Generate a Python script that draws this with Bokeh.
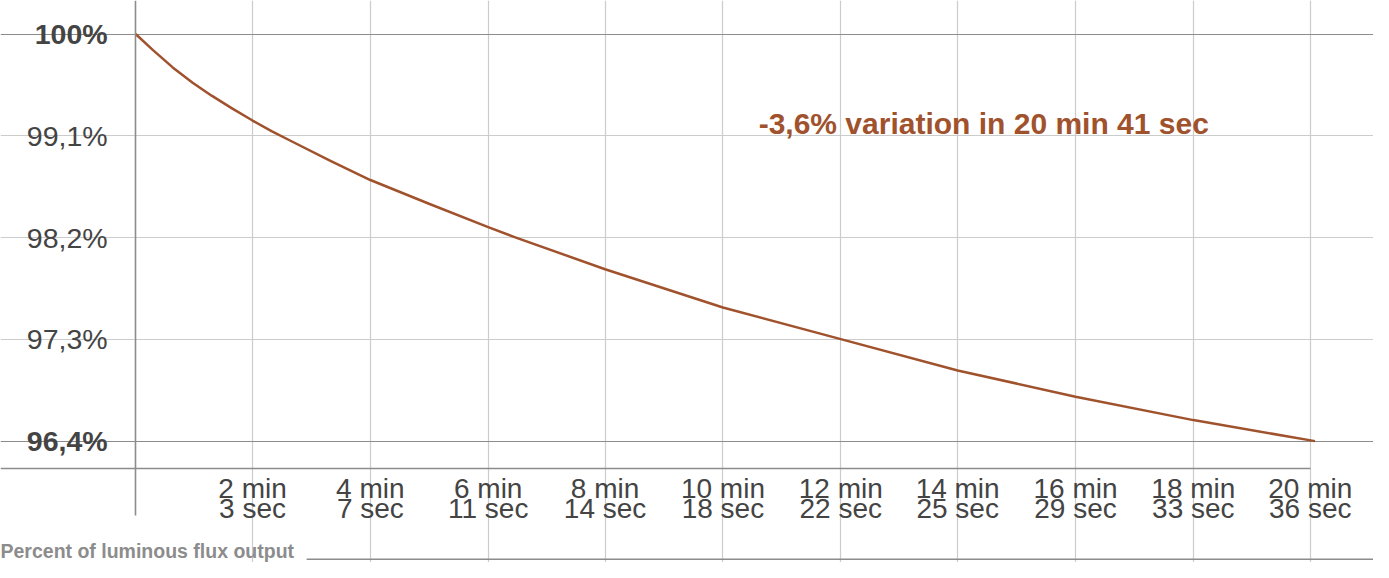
from bokeh.plotting import figure
from bokeh.models import LinearAxis, FixedTicker, Grid, Label, Range1d
from bokeh.embed import file_html
from bokeh.resources import INLINE

# ---- data ----
time_s = [0, 18, 39, 60, 80, 101, 123, 143, 164, 205, 247, 310, 371, 398, 494, 618, 742,
          865, 989, 1113, 1241]
flux_pct = [100, 99.860, 99.705, 99.570, 99.455, 99.345, 99.235, 99.142, 99.052, 98.878,
            98.709, 98.495, 98.293, 98.207, 97.920, 97.582, 97.302, 97.025, 96.793, 96.586,
            96.4]

x_ticks = [123, 247, 371, 494, 618, 742, 865, 989, 1113, 1236]
x_tick_labels = ["2 min\n3 sec", "4 min\n7 sec", "6 min\n11 sec", "8 min\n14 sec",
                 "10 min\n18 sec", "12 min\n22 sec", "14 min\n25 sec", "16 min\n29 sec",
                 "18 min\n33 sec", "20 min\n36 sec"]
y_ticks_bold = [100, 96.4]
y_labels_bold = ["100%", "96,4%"]
y_ticks_norm = [99.1, 98.2, 97.3]
y_labels_norm = ["99,1%", "98,2%", "97,3%"]

annotation = "-3,6% variation in 20 min 41 sec"
footer = "Percent of luminous flux output"

FONT = "Liberation Sans"
SIENNA = "#a0522d"
DARK = "#444444"
LIGHT_GRID = "#cccccc"
DARK_GRID = "#8c8c8c"

# ---- ranges (frame covers the whole canvas) ----
X_START, X_END = -142.19, 1302.58
Y_BOTTOM, Y_TOP = 95.3268, 100.2966
X_AXIS_AT = 96.161      # y value of the horizontal axis line
GRID_LOW = 96.0404      # lower end of the vertical grid lines
Y_AXIS_LOW = 95.7395    # lower end of the vertical axis line
GRID_LEFT = -14.25      # left end of the horizontal grid lines
GRID_RIGHT = 1241
ANNOT_X, ANNOT_Y = 655.6, 99.2125
FOOTER_Y = 95.4275
RULE_Y = 95.3559
RULE_X0 = 180

p = figure(width=1373, height=562, output_backend="svg", toolbar_location=None,
           x_range=Range1d(X_START, X_END), y_range=Range1d(Y_BOTTOM, Y_TOP),
           x_axis_location=None, y_axis_location=None, min_border=0,
           outline_line_color=None, background_fill_color="white")
p.center = []

# grids
p.add_layout(Grid(dimension=0, ticker=FixedTicker(ticks=x_ticks), grid_line_color=LIGHT_GRID,
                  grid_line_width=1.2, bounds=(GRID_LOW, Y_TOP)), "center")
p.add_layout(Grid(dimension=1, ticker=FixedTicker(ticks=y_ticks_norm), grid_line_color=LIGHT_GRID,
                  grid_line_width=1.2, bounds=(GRID_LEFT, GRID_RIGHT)), "center")
p.add_layout(Grid(dimension=1, ticker=FixedTicker(ticks=y_ticks_bold), grid_line_color=DARK_GRID,
                  grid_line_width=1.2, bounds=(GRID_LEFT, GRID_RIGHT)), "center")

# x axis
xaxis = LinearAxis(fixed_location=X_AXIS_AT, ticker=FixedTicker(ticks=x_ticks),
                   major_label_overrides={t: l for t, l in zip(x_ticks, x_tick_labels)},
                   axis_line_color=DARK_GRID, axis_line_width=1.3, bounds=(X_START, 1236),
                   major_tick_out=0, major_tick_in=0, minor_tick_out=0, minor_tick_in=0,
                   major_label_text_font=FONT, major_label_text_font_size="28px",
                   major_label_text_color=DARK, major_label_text_line_height=0.64,
                   major_label_standoff=5)
p.add_layout(xaxis, "below")

# y axes (normal and bold labels)
yaxis = LinearAxis(fixed_location=0, ticker=FixedTicker(ticks=y_ticks_norm),
                   major_label_overrides={t: l for t, l in zip(y_ticks_norm, y_labels_norm)},
                   axis_line_color=DARK_GRID, axis_line_width=1.6, bounds=(Y_AXIS_LOW, Y_TOP),
                   major_tick_out=0, major_tick_in=0, minor_tick_out=0, minor_tick_in=0,
                   major_label_text_font=FONT, major_label_text_font_size="28.5px",
                   major_label_text_color=DARK, major_label_standoff=28)
p.add_layout(yaxis, "left")
yaxis_b = LinearAxis(fixed_location=0, ticker=FixedTicker(ticks=y_ticks_bold),
                     major_label_overrides={t: l for t, l in zip(y_ticks_bold, y_labels_bold)},
                     axis_line_color=None,
                     major_tick_out=0, major_tick_in=0, minor_tick_out=0, minor_tick_in=0,
                     major_label_text_font=FONT, major_label_text_font_size="28.5px",
                     major_label_text_font_style="bold",
                     major_label_text_color=DARK, major_label_standoff=28)
p.add_layout(yaxis_b, "left")

# curve
p.line(time_s, flux_pct, line_color=SIENNA, line_width=2.5, line_join="round")

# annotation
p.add_layout(Label(x=ANNOT_X, y=ANNOT_Y, text=annotation, text_font=FONT, text_font_style="bold",
                   text_font_size="30px", text_color=SIENNA, text_baseline="middle"))

# footer title and rule
p.add_layout(Label(x=X_START, y=FOOTER_Y, text=footer, text_font=FONT,
                   text_font_style="bold", text_font_size="19.5px", text_color="#8c8c8c",
                   text_baseline="middle"))
p.segment(x0=[RULE_X0], y0=[RULE_Y], x1=[X_END], y1=[RULE_Y], line_color="#8c8c8c",
          line_width=1.5)

open("out.html", "w").write(file_html(p, INLINE))
